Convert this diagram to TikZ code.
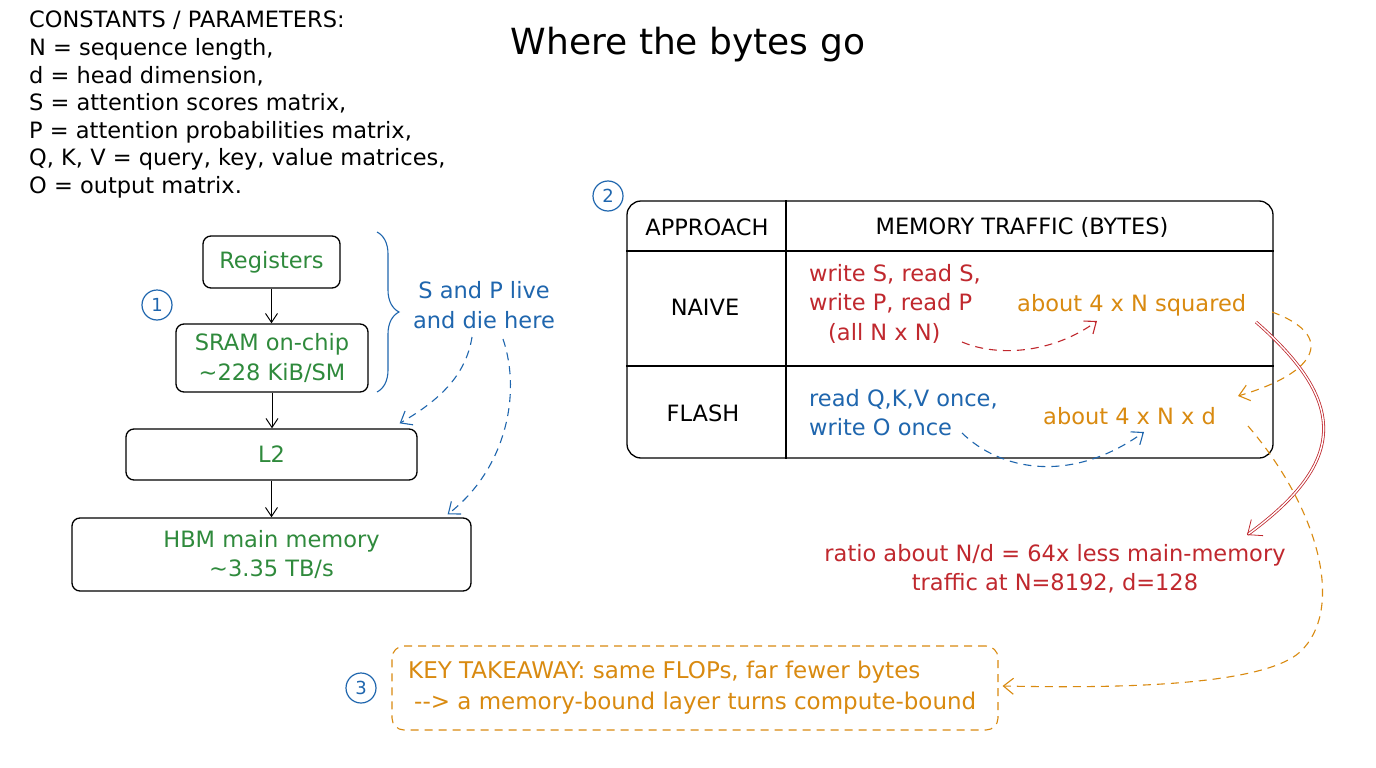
\documentclass[tikz,border=0pt]{standalone}
\usepackage{fontspec}
\setmainfont{DejaVu Sans}
\usetikzlibrary{arrows.meta,decorations.pathreplacing,calc}
\definecolor{cgreen}{HTML}{2F8A3C}
\definecolor{cblue}{HTML}{1F66AE}
\definecolor{cred}{HTML}{C0282E}
\definecolor{corange}{HTML}{D98A10}
\newcommand{\fsn}{\fontsize{22.5}{29.5}\selectfont}
\begin{document}
\begin{tikzpicture}[x=1pt,y=-1pt,
  hbox/.style={draw=black, line width=1.3pt, rounded corners=8pt, fill=white, text=cgreen, font=\fsn, align=center, inner sep=0pt},
  flow/.style={draw=black, line width=1pt, -{Straight Barb[length=9pt,width=12pt]}},
  dsh/.style={line width=1.1pt, dash pattern=on 8pt off 6pt, -{Straight Barb[length=10pt,width=16pt]}},
  circ/.style={draw=cblue, text=cblue, circle, line width=1.2pt, minimum size=30pt, inner sep=0pt, font=\fontsize{18}{20}\selectfont},
  txt/.style={font=\fsn, inner sep=0pt}
]
\useasboundingbox (0,0) rectangle (1376,768);
\fill[white] (0,0) rectangle (1376,768);

% title
\node[font=\fontsize{36}{42}\selectfont, inner sep=0pt] (title) at (688,45) {Where the bytes go};

% constants
\node[txt, anchor=north west, align=left, font=\fontsize{22.5}{27.6}\selectfont] (consts) at (29,11)
{CONSTANTS / PARAMETERS:\\
N = sequence length,\\
d = head dimension,\\
S = attention scores matrix,\\
P = attention probabilities matrix,\\
Q, K, V = query, key, value matrices,\\
O = output matrix.};

% memory hierarchy
\node[hbox, minimum width=137pt, minimum height=52pt] (reg) at (271.5,262) {Registers};
\node[hbox, minimum width=192pt, minimum height=68pt] (sram) at (272,358) {SRAM on-chip\\\textasciitilde228 KiB/SM};
\node[hbox, minimum width=291pt, minimum height=51pt] (l2) at (271.5,454.5) {L2};
\node[hbox, minimum width=399pt, minimum height=73pt] (hbm) at (271.5,554.5) {HBM main memory\\\textasciitilde3.35 TB/s};
\draw[flow] (reg.south) -- (reg.south |- sram.north);
\draw[flow] (sram.south) -- (sram.south |- l2.north);
\draw[flow] (l2.south) -- (l2.south |- hbm.north);

\node[circ] (n1) at (157,305) {1};

% brace
\coordinate (bt) at (377,232);
\coordinate (bb) at (377,392);
\draw[cblue, line width=1.1pt, decorate, decoration={brace, amplitude=22pt}] (bt) -- (bb);

\node[txt, text=cblue, align=center] (spl) at (484,305) {S and P live\\and die here};
\coordinate (s1) at (472,337);
\coordinate (s2) at (503,339);
\draw[dsh, cblue] (s1) .. controls (466,375) and (440,400) .. ($(l2.north east)+(-18,-5)$);
\draw[dsh, cblue] (s2) .. controls (522,395) and (505,470) .. ($(hbm.north east)+(-24,-3)$);

% table
\node[circ] (n2) at (608,196) {2};
\node[draw=black, line width=1.3pt, rounded corners=14pt, minimum width=646pt, minimum height=257pt, inner sep=0pt] (tbl) at (950,329.5) {};
\draw[line width=1.3pt] (tbl.west |- 0,251) -- (tbl.east |- 0,251);
\draw[line width=1.3pt] (tbl.west |- 0,366) -- (tbl.east |- 0,366);
\draw[line width=1.3pt] (tbl.north -| 786,0) -- (tbl.south -| 786,0);

\node[txt] (hA) at (707,227) {APPROACH};
\node[txt] (hB) at (1022,227) {MEMORY TRAFFIC (BYTES)};
\node[txt] (rN) at (705,307) {NAIVE};
\node[txt] (rF) at (703,413) {FLASH};

\node[txt, text=cred, anchor=north west, align=left] (naive) at (809,264) {write S, read S,\\write P, read P\\\hspace*{19pt}(all N x N)};
\node[txt, text=corange, anchor=west] (n4) at (1017,305) {about 4 x N squared};
\node[txt, text=cblue, anchor=north west, align=left] (flash) at (809,389) {read Q,K,V once,\\write O once};
\node[txt, text=corange, anchor=west] (f4) at (1043,416) {about 4 x N x d};

\coordinate (ra) at (962,342);
\draw[dsh, cred] (ra) .. controls (1000,358) and (1055,352) .. (1097,321);
\coordinate (ba) at (962,433);
\draw[dsh, cblue] (ba) .. controls (1000,470) and (1070,485) .. (1144,432);

\coordinate (oa) at (1272,312);
\coordinate (oe) at (1238,396);
\draw[dsh, corange] (oa) .. controls (1335,335) and (1320,372) .. (oe);

% red double arrow
\coordinate (rd) at (1256,322);
\coordinate (re) at (1247,535);
\node[txt, text=cred, align=center] (ratio) at (1055,569) {ratio about N/d = 64x less main-memory\\traffic at N=8192, d=128};
\draw[cred, line width=0.8pt, double=white, double distance=1.4pt, -{Straight Barb[length=12pt,width=20pt]}]
  (rd) .. controls (1345,400) and (1350,460) .. (re);

% takeaway
\node[circ] (n3) at (361,688) {3};
\node[draw=corange, dash pattern=on 8pt off 6pt, line width=1.1pt, rounded corners=12pt, minimum width=606pt, minimum height=84pt, inner sep=0pt] (take) at (695,688) {};
\node[txt, text=corange, anchor=west, align=left, font=\fontsize{23}{31}\selectfont] (taket) at (408,688) {KEY TAKEAWAY: same FLOPs, far fewer bytes\\\hspace*{6pt}{-}{-}> a memory-bound layer turns compute-bound};

\coordinate (ob) at (1248,426);
\draw[dsh, corange] (ob) .. controls (1320,510) and (1345,610) .. (1300,652) .. controls (1260,688) and (1100,688) .. ($(take.east)+(4,-2)$);
\end{tikzpicture}
\end{document}
